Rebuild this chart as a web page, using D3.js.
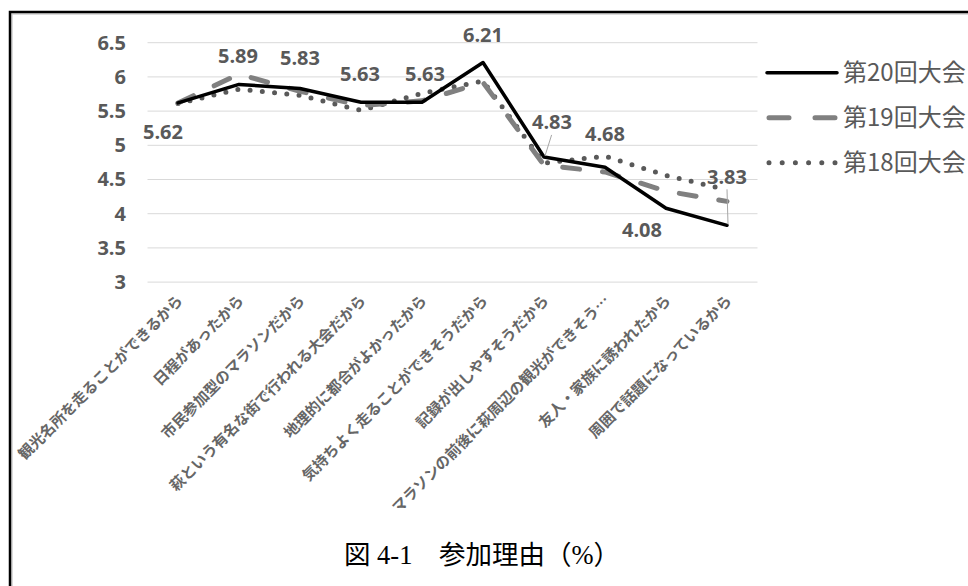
<!DOCTYPE html>
<html>
<head>
<meta charset="utf-8">
<script src="https://cdn.jsdelivr.net/npm/d3@7/dist/d3.min.js"></script>
<style>
  html, body { margin: 0; padding: 0; background: #fff; }
  svg { display: block; }
</style>
</head>
<body>
<svg id="chart" width="968" height="586"></svg>
<script>
// Reasons for taking part, mean score by edition
const categories = [
  "観光名所を走ることができるから",
  "日程があったから",
  "市民参加型のマラソンだから",
  "萩という有名な街で行われる大会だから",
  "地理的に都合がよかったから",
  "気持ちよく走ることができそうだから",
  "記録が出しやすそうだから",
  "マラソンの前後に萩周辺の観光ができそう…",
  "友人・家族に誘われたから",
  "周囲で話題になっているから"
];
const seriesNames = ["第20回大会", "第19回大会", "第18回大会"];
const values20 = [5.62, 5.89, 5.83, 5.63, 5.63, 6.21, 4.83, 4.68, 4.08, 3.83];
const values19 = [5.62, 6.04, 5.79, 5.58, 5.65, 5.92, 4.71, 4.61, 4.33, 4.18];
const values18 = [5.61, 5.82, 5.73, 5.51, 5.76, 5.94, 4.74, 4.84, 4.56, 4.35];
const yTicks = [3, 3.5, 4, 4.5, 5, 5.5, 6, 6.5];
const caption = "図 4-1　参加理由（%）";

// where each value label of 第20回大会 sits relative to its point
const labelOffsets = [
  [-15, 29], [-1, -29], [0, -31], [-1, -28], [3, -28],
  [0, -28], [8, -35], [0, -33], [-24, 22], [0, -49]
];
const leaderLines = [false, false, false, false, false, false, true, false, false, true];

const svg = d3.select("#chart");

const x = d3.scaleBand().domain(categories).range([147.5, 757.5]).padding(0);
const cx = c => x(c) + x.bandwidth() / 2;
const y = d3.scaleLinear().domain([3, 6.5]).range([282.1, 42.7]);

// frame
svg.append("path")
  .attr("d", "M12,586V14H968")
  .attr("fill", "none").attr("stroke", "#d0d0d0").attr("stroke-width", 1.5);
svg.append("path")
  .attr("d", "M10,586V12H968")
  .attr("fill", "none").attr("stroke", "#000").attr("stroke-width", 2.5);

// gridlines
svg.append("g").selectAll("line").data(yTicks).join("line")
  .attr("x1", 147.5).attr("x2", 757.5)
  .attr("y1", d => y(d)).attr("y2", d => y(d))
  .attr("stroke", "#d9d9d9").attr("stroke-width", 1);

// y axis labels
const yAxis = d3.axisLeft(y).tickValues(yTicks).tickSize(0).tickPadding(0)
  .tickFormat(d => String(d));
const yg = svg.append("g").attr("transform", "translate(126,0)").call(yAxis);
yg.select(".domain").remove();
yg.selectAll("text")
  .attr("font-family", "'Open Sans', 'Noto Sans', sans-serif")
  .attr("font-weight", "bold").attr("font-size", 20).attr("fill", "#595959");

// x axis labels, rotated
const xAxis = d3.axisBottom(x).tickSize(0).tickPadding(0);
const xg = svg.append("g").attr("transform", "translate(0,282)").call(xAxis);
xg.select(".domain").remove();
xg.selectAll(".tick text")
  .attr("font-family", "'Noto Sans CJK JP', sans-serif")
  .attr("font-weight", "bold").attr("font-size", 15).attr("fill", "#666")
  .attr("text-anchor", "end")
  .attr("dy", "0.35em")
  .attr("transform", "translate(2,16) rotate(-45)")
  .attr("y", 0).attr("x", 0);

// series lines
const line = d3.line().x((d, i) => cx(categories[i])).y(d => y(d));
const styles = {
  "第20回大会": { stroke: "#000", width: 3.5, dash: null, cap: "round" },
  "第19回大会": { stroke: "#808080", width: 5, dash: "17 23", cap: "round" },
  "第18回大会": { stroke: "#595959", width: 5, dash: "0 12.3", cap: "round" }
};
const seriesData = { "第20回大会": values20, "第19回大会": values19, "第18回大会": values18 };

["第18回大会", "第19回大会", "第20回大会"].forEach(name => {
  const s = styles[name];
  svg.append("path")
    .datum(seriesData[name])
    .attr("d", line)
    .attr("fill", "none")
    .attr("stroke", s.stroke)
    .attr("stroke-width", s.width)
    .attr("stroke-linecap", s.cap)
    .attr("stroke-linejoin", "round")
    .attr("stroke-dasharray", s.dash);
});

// value labels for 第20回大会
const lbl = svg.append("g");
values20.forEach((v, i) => {
  const px = cx(categories[i]), py = y(v);
  const [dx, dy] = labelOffsets[i];
  if (leaderLines[i]) {
    lbl.append("line")
      .attr("x1", px + dx * 0.95).attr("y1", py + dy + 13)
      .attr("x2", px + 1).attr("y2", py - 1)
      .attr("stroke", "#a6a6a6").attr("stroke-width", 1);
  }
  lbl.append("text")
    .attr("x", px + dx).attr("y", py + dy)
    .attr("dy", "0.36em")
    .attr("text-anchor", "middle")
    .attr("font-family", "'Open Sans', 'Noto Sans', sans-serif")
    .attr("font-weight", "bold").attr("font-size", 20).attr("fill", "#595959")
    .text(v.toFixed(2));
});

// legend
const legendY = d3.scalePoint().domain(seriesNames).range([72.7, 162.7]);
const lg = svg.append("g");
seriesNames.forEach(name => {
  const s = styles[name];
  const ly = legendY(name);
  lg.append("line")
    .attr("x1", name === "第20回大会" ? 767 : 769).attr("x2", name === "第20回大会" ? 837 : 835)
    .attr("y1", ly).attr("y2", ly)
    .attr("stroke", s.stroke).attr("stroke-width", s.width)
    .attr("stroke-linecap", s.cap)
    .attr("stroke-dasharray", name === "第19回大会" ? "20 26" : (name === "第18回大会" ? "0 13.2" : null));
  lg.append("text")
    .attr("x", 843).attr("y", ly).attr("dy", "0.36em")
    .attr("font-family", "'Noto Sans CJK JP', sans-serif")
    .attr("font-size", 24).attr("fill", "#595959")
    .text(name);
});

// caption
svg.append("text")
  .attr("x", 482).attr("y", 564)
  .attr("text-anchor", "middle")
  .attr("font-family", "'Liberation Serif', 'Noto Sans CJK JP', serif")
  .attr("font-size", 26.5).attr("fill", "#000")
  .text(caption);
</script>
</body>
</html>
